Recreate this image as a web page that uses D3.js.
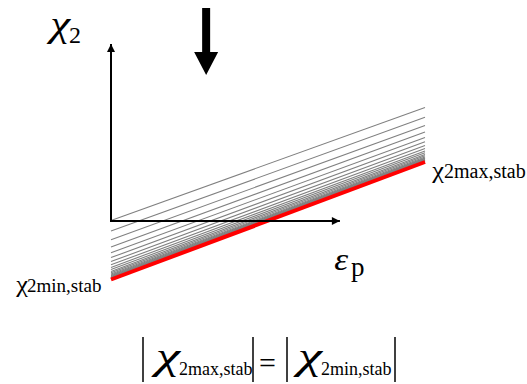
<!DOCTYPE html>
<html>
<head>
<meta charset="utf-8">
<script src="https://cdn.jsdelivr.net/npm/d3@7"></script>
<style>
  html, body { margin: 0; padding: 0; background: #fff; }
  svg { display: block; }
</style>
</head>
<body>
<script>
// Family of stability lines chi2(eps_p): value at eps_p = 0 and at eps_p = 10
const lineStart = [0.05, -1.01, -1.88, -2.60, -3.18, -3.66, -4.06, -4.38, -4.64, -4.86,
                   -5.04, -5.18, -5.31, -5.40, -5.48, -5.55, -5.60, -5.65, -5.68, -5.71, -5.74, -5.76];
const lineEnd   = [11.35, 10.37, 9.56, 8.90, 8.36, 7.92, 7.56, 7.26, 7.01, 6.82,
                   6.65, 6.52, 6.40, 6.31, 6.24, 6.18, 6.13, 6.09, 6.05, 6.03, 6.00, 5.98];
// Limiting (stability) line
const limitLine = [-5.85, 5.9];
const epsRange = [0, 10];
// Axis extents (data units)
const xAxisEnd = 7.29;
const yAxisEnd = 17.7;

const SERIF = "'Liberation Serif', 'DejaVu Serif', 'Times New Roman', serif";
const W = 527, H = 384;
const svg = d3.select("body").append("svg").attr("width", W).attr("height", H)
  .attr("font-family", SERIF);

const x = d3.scaleLinear().domain([0, 10]).range([111, 425]);
const y = d3.scaleLinear().domain([0, 10]).range([221, 121]);

const defs = svg.append("defs");
defs.append("marker")
  .attr("id", "arrow")
  .attr("viewBox", "0 0 10 10")
  .attr("refX", 10).attr("refY", 5)
  .attr("markerWidth", 10).attr("markerHeight", 8)
  .attr("markerUnits", "userSpaceOnUse")
  .attr("orient", "auto")
  .append("path").attr("d", "M0,0 L10,5 L0,10 Z").attr("fill", "#000");

// gray family
const lines = lineStart.map((s, i) => [[epsRange[0], s], [epsRange[1], lineEnd[i]]]);
const lineGen = d3.line().x(d => x(d[0])).y(d => y(d[1]));
svg.append("g").selectAll("path").data(lines).join("path")
  .attr("d", lineGen)
  .attr("fill", "none")
  .attr("stroke", "#808080")
  .attr("stroke-width", 1.1);

// red limit line
svg.append("path")
  .attr("d", lineGen([[epsRange[0], limitLine[0]], [epsRange[1], limitLine[1]]]))
  .attr("fill", "none")
  .attr("stroke", "#ff0000")
  .attr("stroke-width", 4);

// axes with arrowheads
svg.append("line")
  .attr("x1", x(0)).attr("y1", y(0)).attr("x2", x(0)).attr("y2", y(yAxisEnd))
  .attr("stroke", "#000").attr("stroke-width", 2).attr("marker-end", "url(#arrow)");
svg.append("line")
  .attr("x1", x(0) - 1).attr("y1", y(0)).attr("x2", x(xAxisEnd)).attr("y2", y(0))
  .attr("stroke", "#000").attr("stroke-width", 2).attr("marker-end", "url(#arrow)");

// big downward arrow
const ax = x(3.03);
svg.append("path")
  .attr("d", `M${ax - 4},${y(21.3)} L${ax + 4},${y(21.3)} L${ax + 4},${y(16.9)} L${ax + 12},${y(16.9)}
              L${ax},${y(14.6)} L${ax - 12},${y(16.9)} L${ax - 4},${y(16.9)} Z`)
  .attr("fill", "#000");

// one text run at (px, py); sx stretches it horizontally, anchor "end" right-aligns it
const label = (px, py, s, size, italic, sx, anchor) => svg.append("text")
  .attr("transform", `translate(${px},${py}) scale(${sx || 1},1)`)
  .attr("font-family", SERIF)
  .attr("font-size", size)
  .attr("font-style", italic ? "italic" : "normal")
  .attr("text-anchor", anchor || "start")
  .attr("fill", "#000")
  .text(s);

// axis titles
label(70, 36, "χ", 36, true, 1.25, "end");
label(69, 43, "2", 24, false);
label(348, 270, "ε", 32, true, 1.1, "end");
label(351, 276, "p", 27, false);

// end labels
label(444, 178, "χ", 24, false, 1.1, "end");
label(444, 178, "2max,stab", 20, false);
label(28, 292, "χ", 24, false, 1.1, "end");
label(27, 292, "2min,stab", 19, false);

// equation |chi2max,stab| = |chi2min,stab|
const bar = (bx) => svg.append("line").attr("x1", bx).attr("x2", bx).attr("y1", 337).attr("y2", 382)
  .attr("stroke", "#000").attr("stroke-width", 1.5);
bar(143); bar(253); bar(287); bar(395);
label(180, 369, "χ", 38, true, 1.45, "end");
label(179, 375, "2max,stab", 18, false);
label(259, 373, "=", 30, false);
label(322, 369, "χ", 38, true, 1.45, "end");
label(321, 375, "2min,stab", 18, false);
</script>
</body>
</html>
